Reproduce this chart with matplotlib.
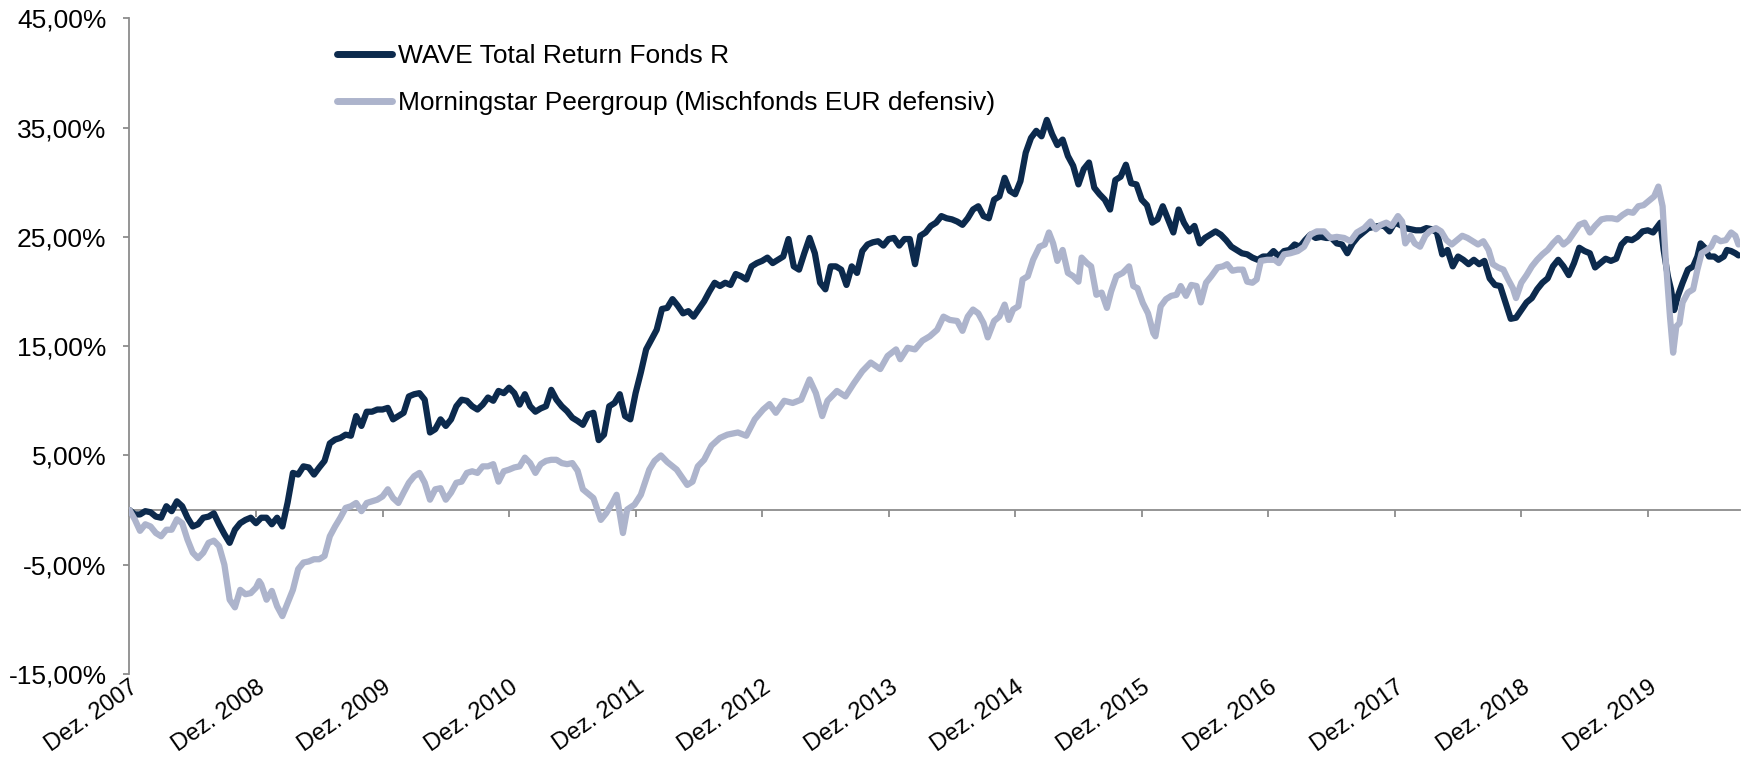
import numpy as np
import pandas as pd
import matplotlib
matplotlib.use("Agg")
import matplotlib.pyplot as plt
import matplotlib.dates as mdates
from matplotlib.ticker import FixedLocator, FuncFormatter, NullFormatter

plt.rcParams['font.family'] = ['Liberation Sans', 'DejaVu Sans']

# months after 31 Dec 2007, performance in percent
wave_months = list(np.arange(0, 145.0, 0.5)) + [145.2, 145.5, 145.9, 146.2, 146.5, 146.85, 147.3, 147.8, 148.3,
                                               148.7, 149.0, 149.4, 149.8, 150.3, 150.7, 151.2, 151.5, 151.9,
                                               152.3, 152.6]
wave_pct = [
    0.0, -0.4, -0.4, -0.1, -0.2, -0.6, -0.7, 0.35, -0.1, 0.8, 0.35, -0.7,
    -1.5, -1.3, -0.7, -0.6, -0.3, -1.3, -2.2, -3.0, -1.8, -1.2, -0.9, -0.7,
    -1.2, -0.7, -0.7, -1.3, -0.7, -1.5, 0.7, 3.4, 3.25, 4.0, 3.9, 3.25,
    3.9, 4.5, 6.1, 6.45, 6.6, 6.9, 6.8, 8.6, 7.7, 9.0, 9.0, 9.2,
    9.2, 9.35, 8.3, 8.6, 8.9, 10.4, 10.6, 10.7, 10.1, 7.1, 7.4, 8.3,
    7.7, 8.3, 9.5, 10.1, 10.0, 9.5, 9.2, 9.65, 10.3, 10.0, 10.9, 10.7,
    11.2, 10.7, 9.65, 10.6, 9.5, 9.0, 9.3, 9.5, 11.0, 10.1, 9.5, 9.05,
    8.45, 8.15, 7.8, 8.75, 8.9, 6.4, 6.9, 9.5, 9.8, 10.6, 8.6, 8.3,
    10.7, 12.6, 14.7, 15.6, 16.5, 18.4, 18.5, 19.3, 18.7, 18.0, 18.2, 17.7,
    18.4, 19.1, 20.0, 20.8, 20.5, 20.8, 20.6, 21.6, 21.4, 21.1, 22.3, 22.6,
    22.8, 23.1, 22.6, 22.9, 23.2, 24.8, 22.3, 22.0, 23.5, 24.9, 23.5, 20.8,
    20.2, 22.3, 22.3, 22.0, 20.6, 22.3, 21.7, 23.7, 24.3, 24.5, 24.6, 24.2,
    24.8, 24.9, 24.2, 24.8, 24.8, 22.5, 25.1, 25.4, 26.0, 26.3, 26.9, 26.7,
    26.6, 26.4, 26.1, 26.7, 27.5, 27.8, 26.9, 26.7, 28.4, 28.7, 30.4, 29.2,
    28.9, 30.1, 32.7, 34.05, 34.7, 34.2, 35.7, 34.4, 33.4, 33.9, 32.4, 31.5,
    29.8, 31.2, 31.8, 29.5, 28.9, 28.4, 27.5, 30.2, 30.5, 31.6, 29.9, 29.8,
    28.4, 27.9, 26.3, 26.6, 27.8, 26.6, 25.4, 27.5, 26.3, 25.5, 26.0, 24.4,
    24.9, 25.2, 25.5, 25.2, 24.7, 24.1, 23.8, 23.5, 23.4, 23.1, 22.9, 23.2,
    23.2, 23.7, 23.2, 23.7, 23.8, 24.3, 24.1, 24.7, 25.2, 24.9, 25.0, 24.9,
    24.9, 24.4, 24.3, 23.5, 24.4, 25.0, 25.4, 25.8, 25.9, 26.0, 26.0, 25.5,
    26.3, 26.1, 25.8, 25.7, 25.6, 25.6, 25.8, 25.7, 25.4, 23.4, 23.8, 22.3,
    23.2, 22.9, 22.5, 22.9, 22.5, 22.8, 21.2, 20.6, 20.5, 19.0, 17.5, 17.6,
    18.3, 19.0, 19.4, 20.2, 20.8, 21.2, 22.3, 22.9, 22.3, 21.5, 22.6, 24.0,
    23.7, 23.5, 22.2, 22.6, 23.0, 22.8, 23.0, 24.3, 24.8, 24.7, 25.0, 25.5,
    25.6, 25.4,
    26.3, 23.8, 21.4, 20.2, 18.3, 19.6, 20.8, 22.0, 22.3,
    23.2, 24.4, 24.0, 23.2, 23.2, 22.9, 23.2, 23.8, 23.7,
    23.5, 23.3,
]

peer_months = [
    0, 0.5, 1, 1.5, 2, 2.5, 3, 3.5, 4, 4.5, 5, 5.5,
    6, 6.5, 7, 7.5, 8, 8.5, 9, 9.5, 10, 10.5, 11, 11.5,
    12, 12.3, 12.5, 13, 13.5, 14, 14.5, 15, 15.5, 16, 16.5, 17, 17.5,
    18, 18.5, 19, 19.5, 20, 20.5, 21, 21.5, 22, 22.5, 23, 23.5,
    24, 24.5, 25, 25.5, 26, 26.5, 27, 27.5, 28, 28.5, 29, 29.5,
    30, 30.5, 31, 31.5, 32, 32.5, 33, 33.5, 34, 34.5, 35, 35.5,
    36, 36.5, 37, 37.5, 38, 38.5, 39, 39.5, 40, 40.5, 41, 41.5,
    42, 42.5, 43, 43.5, 44, 44.7, 45.2, 45.8, 46.2, 46.6, 46.8, 47.2, 47.9,
    48.5, 49.3, 49.8, 50.4, 51, 51.9, 52.9, 53.4, 53.9,
    54.5, 55.2, 56, 56.7, 57.7, 58.5, 59.3,
    60.1, 60.7, 61.3, 62.1, 62.9, 63.7, 64.5, 65.1, 65.7,
    66.2, 67.1, 67.9, 68.7, 69.5, 70.3, 71.2, 71.9,
    72.7, 73.1, 73.8, 74.5, 75.2, 75.9, 76.6, 77.2, 77.8,
    78.5, 79, 79.5, 80, 80.5, 81, 81.4, 82, 82.5, 83, 83.4, 83.8,
    84.3, 84.7, 85.2, 85.7, 86.3, 86.8, 87.2, 87.6, 88, 88.5, 89, 89.5,
    90, 90.3, 90.8, 91.2, 91.7, 92.2, 92.7, 93.1, 93.6, 94.2, 94.8, 95.2, 95.6,
    96.1, 96.6, 97.1, 97.3, 97.8, 98.3, 98.8, 99.3, 99.7, 100.2, 100.7, 101.2, 101.6,
    102.1, 102.6, 103.2, 103.7, 104.1, 104.6, 105.1, 105.6, 106, 106.5, 106.9, 107.3, 107.9,
    108.6, 109, 109.5, 110.1, 110.8, 111.4, 112, 112.6, 113.3, 113.9,
    114.5, 115.2, 115.8, 116.4, 117.1,
    117.7, 118.2, 118.7, 119.2, 119.7, 120.3, 120.7, 121, 121.5, 121.9, 122.4, 122.9, 123.3, 123.9,
    124.4, 124.9, 125.4, 125.9, 126.4, 126.9, 127.4, 127.9, 128.4, 128.9, 129.3, 129.8,
    130.3, 130.7, 131.2, 131.5, 132, 132.5, 133, 133.5, 134, 134.5, 135, 135.5,
    136, 136.5, 137, 137.5, 138, 138.5, 139, 139.6, 140.1, 140.6, 141.1, 141.6,
    142.1, 142.6, 143.1, 143.6, 144.1, 144.6, 145, 145.4, 145.7, 146.1, 146.4, 146.7, 147.0,
    147.3, 147.8, 148.3, 148.7, 149.1, 149.6, 150.0, 150.4, 150.9, 151.4, 151.9, 152.3, 152.6,
]
peer_pct = [
    0.0, -0.85, -1.9, -1.3, -1.5, -2.1, -2.4, -1.8, -1.8, -0.85, -1.2, -2.7,
    -3.9, -4.4, -3.9, -3.0, -2.8, -3.3, -5.0, -8.2, -8.9, -7.3, -7.7, -7.6,
    -7.1, -6.5, -6.8, -8.2, -7.4, -8.8, -9.7, -8.5, -7.3, -5.4, -4.8, -4.7, -4.5,
    -4.5, -4.2, -2.4, -1.5, -0.7, 0.2, 0.35, 0.65, -0.1, 0.65, 0.8, 0.95,
    1.25, 1.9, 1.1, 0.65, 1.6, 2.5, 3.1, 3.4, 2.5, 0.95, 1.9, 2.0,
    0.95, 1.6, 2.5, 2.6, 3.4, 3.55, 3.4, 4.0, 4.0, 4.2, 2.6, 3.55,
    3.7, 3.9, 4.0, 4.8, 4.3, 3.4, 4.2, 4.5, 4.6, 4.6, 4.3, 4.2,
    4.3, 3.6, 1.9, 1.5, 1.1, -0.9, -0.3, 0.66, 1.4, -0.9, -2.1, 0.05, 0.5,
    1.4, 3.7, 4.5, 5.0, 4.4, 3.7, 2.3, 2.6, 4.0,
    4.6, 5.9, 6.6, 6.9, 7.1, 6.8, 8.3,
    9.2, 9.7, 8.9, 10.0, 9.8, 10.1, 11.95, 10.7, 8.6,
    10.0, 10.9, 10.4, 11.6, 12.7, 13.5, 12.9, 14.1,
    14.7, 13.8, 14.85, 14.7, 15.5, 15.9, 16.5, 17.7, 17.4,
    17.3, 16.4, 17.7, 18.35, 18.0, 17.1, 15.8, 17.3, 17.7, 18.8, 17.4, 18.35,
    18.65, 21.1, 21.4, 22.9, 24.1, 24.3, 25.4, 24.4, 22.8, 23.8, 21.7, 21.4,
    20.9, 23.1, 22.6, 22.3, 19.7, 19.9, 18.5, 20.0, 21.4, 21.7, 22.3, 20.5, 20.3,
    18.96, 18.0, 16.2, 15.9, 18.65, 19.3, 19.6, 19.7, 20.5, 19.6, 20.6, 20.5, 19.0,
    20.8, 21.4, 22.2, 22.3, 22.5, 21.9, 22.0, 22.0, 20.9, 20.8, 21.1, 22.8, 22.9,
    22.9, 22.6, 23.4, 23.5, 23.7, 24.1, 25.2, 25.5, 25.5, 24.9,
    25.0, 24.9, 24.6, 25.4, 25.8,
    26.4, 25.7, 26.1, 26.3, 26.0, 26.9, 26.4, 24.4, 25.1, 24.4, 24.1, 25.1, 25.5, 25.8,
    25.5, 24.7, 24.3, 24.7, 25.1, 24.9, 24.6, 24.3, 24.6, 23.8, 22.5, 22.2,
    22.0, 21.2, 20.3, 19.4, 20.8, 21.5, 22.3, 22.9, 23.4, 23.8, 24.4, 24.9,
    24.3, 24.7, 25.4, 26.1, 26.3, 25.4, 26.0, 26.6, 26.7, 26.7, 26.6, 27.0,
    27.3, 27.2, 27.8, 27.9, 28.3, 28.7, 29.6, 27.8, 22.9, 17.7, 14.4, 16.8, 17.1,
    19.0, 19.9, 20.2, 22.0, 23.5, 23.8, 24.1, 24.9, 24.6, 24.7, 25.4, 25.1, 24.3,
]

series_names = ["WAVE Total Return Fonds R", "Morningstar Peergroup (Mischfonds EUR defensiv)"]
tick_years = list(range(2007, 2020))
tick_labels = [f"Dez. {y}" for y in tick_years]
y_ticks = [-15, -5, 5, 15, 25, 35, 45]

dark = "#0c2a4d"
light = "#adb4cc"
gray = "#8c8c8c"

start = pd.Timestamp("2007-12-31")


def to_dates(months):
    return [start + pd.Timedelta(days=m * 365.25 / 12) for m in months]


fig = plt.figure(figsize=(17.52, 7.68), dpi=100)
ax = fig.add_axes([0.0739, 0.1224, 0.9193, 0.8538])

ax.plot(to_dates(wave_months), wave_pct, color=dark, lw=4.5, solid_joinstyle="round",
        solid_capstyle="round", label=series_names[0], zorder=3)
ax.plot(to_dates(peer_months), peer_pct, color=light, lw=4.5, solid_joinstyle="round",
        solid_capstyle="round", label=series_names[1], zorder=4)

ax.set_ylim(-15, 45)
ax.set_xlim(start, start + pd.Timedelta(days=152.75 * 365.25 / 12))

# y axis
ax.yaxis.set_major_locator(FixedLocator(y_ticks))
ax.yaxis.set_major_formatter(FuncFormatter(lambda v, p: f"{v:.2f}".replace(".", ",") + "%"))
ax.tick_params(axis="y", direction="out", length=4.5, width=1.3, color=gray,
               labelsize=19, pad=12)

# x labels at the bottom, no ticks there
tick_pos = [mdates.date2num(pd.Timestamp(f"{y}-12-31")) for y in tick_years]
ax.xaxis.set_major_locator(FixedLocator(tick_pos))
ax.set_xticklabels(tick_labels)
ax.tick_params(axis="x", length=0, labelsize=17, pad=2)
for lab in ax.get_xticklabels():
    lab.set_rotation(35)
    lab.set_ha("right")
    lab.set_va("top")
    lab.set_rotation_mode("anchor")

for s in ["top", "right", "bottom"]:
    ax.spines[s].set_visible(False)
ax.spines["left"].set_color(gray)
ax.spines["left"].set_linewidth(1.3)

# zero line with the year ticks
zero = ax.secondary_xaxis((0 + 15) / 60)
zero.xaxis.set_major_locator(FixedLocator(tick_pos))
zero.xaxis.set_major_formatter(NullFormatter())
zero.tick_params(direction="out", length=5, width=1.3, color=gray)
zero.spines["bottom"].set_color(gray)
zero.spines["bottom"].set_linewidth(1.3)

leg = ax.legend(loc="upper left", bbox_to_anchor=(337 / 1752, 1 - 44 / 768),
                bbox_transform=fig.transFigure, frameon=False, fontsize=19,
                handlelength=2.1, handletextpad=0.2, labelspacing=0.88,
                borderpad=0, borderaxespad=0)
for h in leg.get_lines():
    h.set_linewidth(5)

fig.savefig("out.png", dpi=100)
